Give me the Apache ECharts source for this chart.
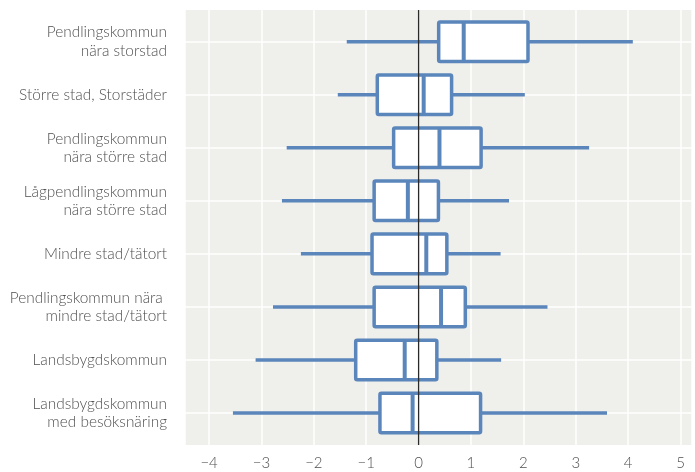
<!DOCTYPE html>
<html>
<head>
<meta charset="utf-8">
<script src="https://cdn.jsdelivr.net/npm/echarts@6/dist/echarts.min.js"></script>
<style>
  html, body { margin: 0; padding: 0; background: #fff; }
  #chart { width: 695px; height: 472px; }
</style>
</head>
<body>
<div id="chart"></div>
<script>
// Municipality groups, top to bottom
const categories = [
  'Pendlingskommun\nnära storstad',
  'Större stad, Storstäder',
  'Pendlingskommun\nnära större stad',
  'Lågpendlingskommun\nnära större stad',
  'Mindre stad/tätort',
  'Pendlingskommun nära \nmindre stad/tätort',
  'Landsbygdskommun',
  'Landsbygdskommun\nmed besöksnäring'
];

// Box-and-whisker statistics per group
const lowWhisker  = [-1.39, -1.56, -2.53, -2.62, -2.26, -2.79, -3.12, -3.55];
const lowerQuart  = [ 0.355, -0.81, -0.50, -0.87, -0.91, -0.87, -1.22, -0.76];
const medians     = [ 0.83,  0.07,  0.37, -0.23,  0.12,  0.40, -0.29, -0.14];
const upperQuart  = [ 2.05,  0.60,  1.16,  0.35,  0.51,  0.86,  0.32,  1.15];
const highWhisker = [ 4.04,  1.99,  3.21,  1.69,  1.53,  2.42,  1.54,  3.55];

// Value axis range
const xMin = -4.46;
const xMax = 5.22;

const boxData = categories.map((c, i) => [
  i, lowWhisker[i], lowerQuart[i], medians[i], upperQuart[i], highWhisker[i]
]);

const BLUE = '#5b86bc';
const FONT = 'Lato, "Open Sans", sans-serif';

function renderBox(params, api) {
  const idx = api.value(0);
  const pt = (dim) => api.coord([api.value(dim), idx]);
  const step = Math.abs(api.coord([0, 1])[1] - api.coord([0, 0])[1]);
  const h = step * 0.746;
  const lo = pt(1), q1 = pt(2), md = pt(3), q3 = pt(4), hi = pt(5);
  const cy = lo[1];
  const lineStyle = { stroke: BLUE, lineWidth: 3.5, lineCap: 'butt' };
  return {
    type: 'group',
    children: [
      { type: 'line', shape: { x1: lo[0], y1: cy, x2: q1[0], y2: cy }, style: lineStyle },
      { type: 'line', shape: { x1: q3[0], y1: cy, x2: hi[0], y2: cy }, style: lineStyle },
      {
        type: 'rect',
        shape: { x: q1[0], y: cy - h / 2, width: q3[0] - q1[0], height: h, r: 1.5 },
        style: { fill: '#ffffff', stroke: BLUE, lineWidth: 3.5, lineJoin: 'round' }
      },
      {
        type: 'line',
        shape: { x1: md[0], y1: cy - h / 2, x2: md[0], y2: cy + h / 2 },
        style: { stroke: BLUE, lineWidth: 4 }
      }
    ]
  };
}

const chart = echarts.init(document.getElementById('chart'), null, { renderer: 'canvas' });
chart.setOption({
  animation: false,
  textStyle: { fontFamily: FONT },
  grid: [
    { left: 185, right: 0, top: 10, bottom: 27, show: true, backgroundColor: '#efefeb', borderWidth: 0 },
    { left: 185, right: 0, top: 41.7, bottom: 59 }
  ],
  xAxis: [
    {
      type: 'value', gridIndex: 0, min: xMin, max: xMax, splitNumber: 10,
      axisLine: { show: false }, axisTick: { show: false },
      splitLine: { show: true, lineStyle: { color: '#ffffff', width: 1.5 } },
      axisLabel: {
        color: '#505050', fontSize: 15, fontWeight: 300, fontFamily: FONT, margin: 11,
        formatter: (v) => Number.isInteger(Math.round(v * 1000) / 1000) ? String(v).replace('-', '\u2212') : ''
      }
    },
    { type: 'value', gridIndex: 1, min: xMin, max: xMax, show: false, splitLine: { show: false } }
  ],
  yAxis: [
    { type: 'value', gridIndex: 0, min: 0, max: 1, show: false, splitLine: { show: false } },
    {
      type: 'category', gridIndex: 1, data: categories, inverse: true, boundaryGap: false,
      axisLine: { show: false }, axisTick: { show: false },
      splitLine: { show: true, interval: 0, lineStyle: { color: '#ffffff', width: 1.5 } },
      axisLabel: {
        interval: 0, color: '#505050', fontSize: 15.4, fontWeight: 300, fontFamily: FONT,
        lineHeight: 18.5, margin: 18, align: 'right'
      }
    }
  ],
  series: [
    {
      type: 'custom', xAxisIndex: 1, yAxisIndex: 1,
      data: boxData, encode: { x: [1, 2, 3, 4, 5], y: 0 },
      renderItem: renderBox, z: 3
    },
    {
      // Zero reference line
      type: 'line', xAxisIndex: 0, yAxisIndex: 0,
      data: [[0, 0], [0, 1]], symbol: 'none', z: 5,
      lineStyle: { color: '#2a2a2a', width: 1.3 }
    }
  ]
});
</script>
</body>
</html>
